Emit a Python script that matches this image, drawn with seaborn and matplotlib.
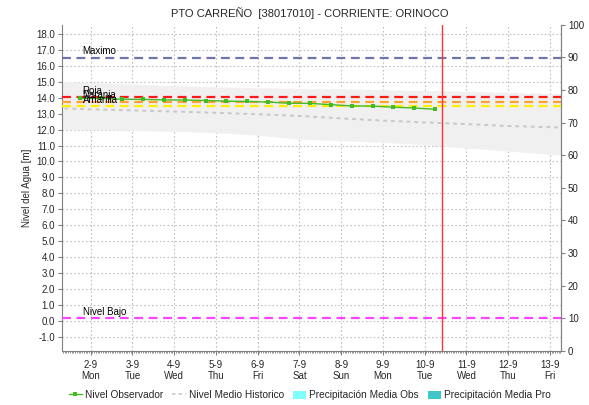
import numpy as np
import pandas as pd
import matplotlib
matplotlib.use("Agg")
import matplotlib.pyplot as plt
import matplotlib.dates as mdates
from matplotlib.lines import Line2D
from matplotlib.patches import Patch
import seaborn as sns

# observed level, every 12 h (06:00 / 18:00)
obs_time = pd.date_range("2024-09-01 18:00", "2024-09-10 06:00", freq="12h")
obs_level = [13.95, 13.95, 13.90, 13.89, 13.86, 13.85, 13.82, 13.78, 13.76,
             13.72, 13.65, 13.64, 13.56, 13.48, 13.47, 13.40, 13.35, 13.27]

# historical mean and band, daily at 00:00
hist_time = pd.date_range("2024-09-01", "2024-09-14", freq="D")
hist_mean = [13.36, 13.27, 13.20, 13.13, 13.05, 12.96, 12.85, 12.70,
             12.56, 12.45, 12.34, 12.22, 12.15, 12.08]
hist_upper = [15.05, 14.95, 14.85, 14.75, 14.68, 14.62, 14.58, 14.55,
              14.50, 14.45, 14.40, 14.33, 14.27, 14.20]
hist_lower = [12.00, 11.98, 11.95, 11.90, 11.80, 11.65, 11.40, 11.30,
              11.20, 11.05, 10.85, 10.65, 10.45, 10.30]

# alert levels
level_names = ["Maximo", "Roja", "Naranja", "Amarilla", "Nivel Bajo"]
level_values = [16.5, 14.05, 13.75, 13.45, 0.2]
level_colors = ["#6b77a6", "#ff1a1a", "#ffa030", "#ffee00", "#ff44ff"]

now_time = pd.Timestamp("2024-09-10 10:00")
tick_days = pd.date_range("2024-09-02", "2024-09-13", freq="D")

obs = pd.DataFrame({"t": obs_time, "nivel": obs_level})
hist = pd.DataFrame({"t": hist_time, "media": hist_mean,
                     "sup": hist_upper, "inf": hist_lower})

sns.set_style("white")
plt.rcParams["font.family"] = ["Liberation Sans", "DejaVu Sans"]

fig = plt.figure(figsize=(5.89, 4.05), dpi=100)
ax = fig.add_axes([0.1053, 0.134, 0.8472, 0.805])

ax.fill_between(hist["t"], hist["inf"], hist["sup"], color="#f0f0f0", lw=0, zorder=1)
sns.lineplot(data=hist, x="t", y="media", ax=ax, color="#c8c8c8", lw=1.4,
             linestyle=(0, (2, 2)), zorder=2)

for name, val, col in zip(level_names, level_values, level_colors):
    ax.axhline(val, color=col, lw=1.6, ls=(0, (4, 2.5)), zorder=3)
    ax.text(pd.Timestamp("2024-09-01 19:20"), val + 0.08, name, fontsize=7,
            color="black", va="bottom", ha="left", zorder=6)

sns.lineplot(data=obs, x="t", y="nivel", ax=ax, color="#44bb22", lw=1.0,
             marker="s", markersize=3, markeredgewidth=0, zorder=5)

ax.axvline(now_time, color="#ff3333", lw=1.0, zorder=4)

ax.set_xlim(pd.Timestamp("2024-09-01 07:30"), pd.Timestamp("2024-09-13 06:20"))
ax.set_ylim(-1.86, 18.57)
ax.set_yticks(np.arange(-1, 19, 1.0))
ax.set_yticklabels([f"{v:.1f}" for v in np.arange(-1, 19, 1.0)])
ax.set_xticks(tick_days)
ax.set_xticklabels([d.strftime("%-d-%-m") + "\n" + d.strftime("%a") for d in tick_days],
                   linespacing=1.1)
ax.xaxis.set_minor_locator(mdates.HourLocator(interval=1))

ax.grid(True, which="major", color="#c0c0c0", ls=(0, (1.5, 2)), lw=0.8)
ax.set_axisbelow(True)
ax.tick_params(axis="both", which="major", labelsize=7, length=3, color="#808080", pad=2)
ax.tick_params(axis="x", which="minor", length=1.5, color="#808080", bottom=True)
ax.tick_params(axis="x", which="major", bottom=True, length=3, pad=4)
ax.tick_params(axis="y", left=True)
ax.set_xlabel("")
ax.set_ylabel("Nivel del Agua [m]", fontsize=7, labelpad=3)
for s in ["left", "bottom", "right"]:
    ax.spines[s].set_color("#808080")
ax.spines["top"].set_visible(False)

ax2 = ax.twinx()
ax2.set_ylim(0, 100)
ax2.set_yticks(np.arange(0, 101, 10))
ax2.tick_params(axis="y", labelsize=7, length=3, color="#808080", pad=2, right=True)
ax2.spines["top"].set_visible(False)
ax2.spines["right"].set_color("#808080")
ax2.spines["left"].set_visible(False)
ax2.spines["bottom"].set_visible(False)

fig.text(0.526, 0.968, "PTO CARREÑO  [38017010] - CORRIENTE: ORINOCO",
         ha="center", va="center", fontsize=8)

handles = [
    Line2D([], [], color="#44bb22", lw=1.0, marker="s", markersize=3, markeredgewidth=0),
    Line2D([], [], color="#c8c8c8", lw=1.2, ls=(0, (2, 2))),
    Patch(facecolor="#80ffff", edgecolor="none"),
    Patch(facecolor="#40c8c8", edgecolor="none"),
]
labels = ["Nivel Observador", "Nivel Medio Historico",
          "Precipitación Media Obs", "Precipitación Media Pro"]
fig.legend(handles, labels, loc="center", bbox_to_anchor=(0.526, 0.024), ncol=4,
           frameon=False, fontsize=7.3, handlelength=1.3, handletextpad=0.3,
           columnspacing=0.9, handleheight=0.9, borderpad=0)

fig.savefig("out.png", dpi=100)
